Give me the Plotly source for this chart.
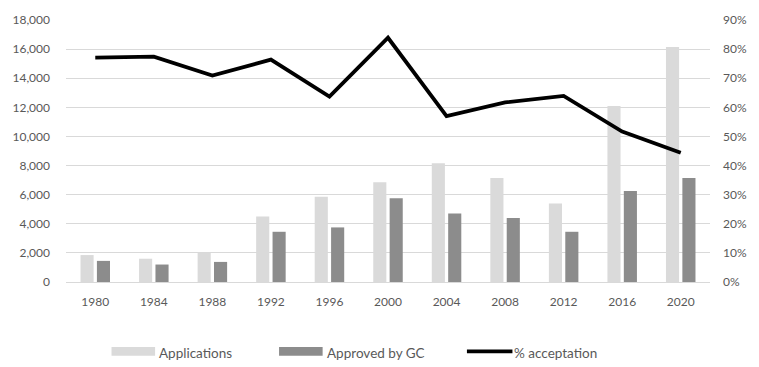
import plotly.graph_objects as go

# Data
years = ["1980", "1984", "1988", "1992", "1996", "2000", "2004", "2008", "2012", "2016", "2020"]
applications = [1850, 1600, 2000, 4500, 5850, 6850, 8150, 7150, 5400, 12100, 16150]
approved = [1450, 1200, 1380, 3450, 3750, 5750, 4700, 4400, 3450, 6250, 7150]
acceptation = [77.1, 77.4, 70.9, 76.4, 63.7, 83.9, 57.0, 61.7, 63.9, 51.7, 44.4]

LIGHT = "#dadada"
DARK = "#8c8c8c"
GRID = "#d9d9d9"
TEXT = "#595959"
FONT = "Lato"

fig = go.Figure()
fig.add_trace(go.Bar(x=years, y=applications, name="Applications",
                     marker=dict(color=LIGHT, line=dict(width=0)), showlegend=False))
fig.add_trace(go.Bar(x=years, y=approved, name="Approved by GC",
                     marker=dict(color=DARK, line=dict(width=0)), showlegend=False))
fig.add_trace(go.Scatter(x=years, y=acceptation, name="% acceptation", yaxis="y2",
                         mode="lines", line=dict(color="black", width=3.8),
                         showlegend=False))

# Plot area geometry (pixels) for the hand-built legend
L, R, T, B = 57, 37, 12, 85
W_FIG, H_FIG = 759, 367
pw = W_FIG - L - R
ph = H_FIG - T - B


def px(x):
    return (x - L) / pw


def py(y):
    return (H_FIG - B - y) / ph


shapes = []
annotations = []
legend_items = [
    ("Applications", "bar", LIGHT, 104, 149, 151),
    ("Approved by GC", "bar", DARK, 277, 322, 324),
    ("% acceptation", "line", "black", 471, 518, 518),
]
ly = 353.5
for label, kind, color, x0, x1, tx in legend_items:
    if kind == "bar":
        shapes.append(dict(type="rect", xref="paper", yref="paper",
                           x0=px(x0), x1=px(x1), y0=py(ly + 4.5), y1=py(ly - 4.5),
                           fillcolor=color, line=dict(width=0)))
    else:
        shapes.append(dict(type="line", xref="paper", yref="paper",
                           x0=px(x0), x1=px(x1), y0=py(ly), y1=py(ly),
                           line=dict(color=color, width=3.8)))
    annotations.append(dict(text=label, xref="paper", yref="paper",
                            x=px(tx), y=py(ly + 1.5), xanchor="left", yanchor="middle",
                            showarrow=False, font=dict(family=FONT, size=13.5, color=TEXT)))

fig.update_layout(
    width=W_FIG, height=H_FIG,
    margin=dict(l=L, r=R, t=T, b=B, pad=0),
    paper_bgcolor="white", plot_bgcolor="white",
    barmode="group", bargap=0.44, bargroupgap=0.2,
    font=dict(family=FONT, size=12, color=TEXT),
    xaxis=dict(type="category", showgrid=False, showline=False, zeroline=False,
               ticks="", tickfont=dict(size=12, color=TEXT), ticklabelstandoff=11),
    yaxis=dict(range=[0, 18000], dtick=2000, tickformat=",", showgrid=True,
               gridcolor=GRID, gridwidth=1, zeroline=True, zerolinecolor=GRID,
               zerolinewidth=1, showline=False, ticks="", ticklabelstandoff=15,
               tickfont=dict(size=12, color=TEXT)),
    yaxis2=dict(range=[0, 90], dtick=10, ticksuffix="%", overlaying="y", side="right",
                showgrid=False, zeroline=False, showline=False, ticks="",
                ticklabelstandoff=12, tickfont=dict(size=12, color=TEXT)),
    shapes=shapes,
    annotations=annotations,
)

fig.write_html("out.html")
